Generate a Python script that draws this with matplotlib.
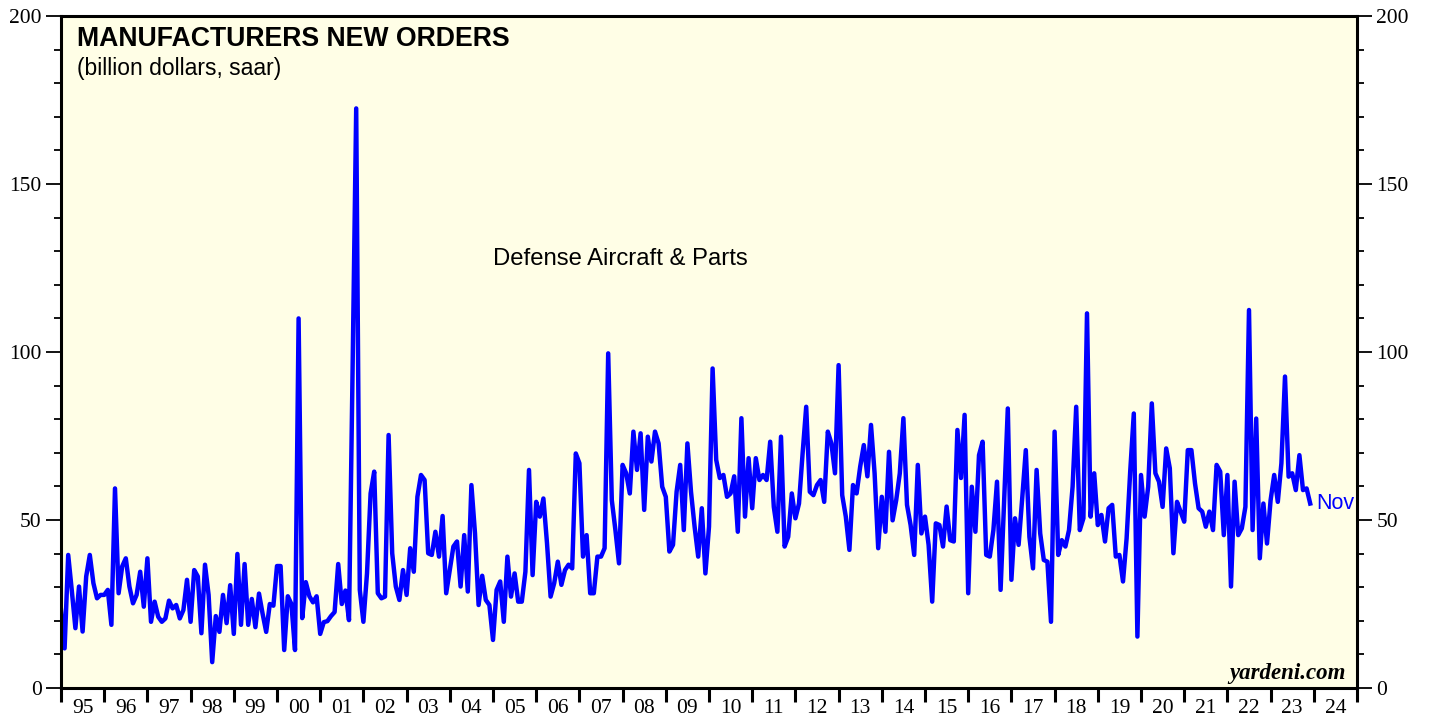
import numpy as np
import matplotlib.pyplot as plt

# Defense aircraft & parts, new orders, billion dollars saar
# monthly values, Dec 1994 .. Nov 2023
dec94 = [23.2]
y1995 = [11.8, 39.6, 29.0, 17.8, 30.2, 16.8, 33.2, 39.6, 31.2, 26.7, 27.7, 27.7]
y1996 = [29.2, 18.8, 59.4, 28.2, 36.2, 38.6, 30.2, 25.2, 27.7, 34.6, 24.2, 38.6]
y1997 = [19.7, 25.7, 21.2, 19.7, 20.7, 26.0, 23.7, 24.7, 20.7, 23.2, 32.2, 19.7]
y1998 = [35.1, 33.2, 16.3, 36.7, 27.7, 7.7, 21.4, 16.7, 27.7, 19.3, 30.6, 16.1]
y1999 = [39.9, 18.8, 36.9, 18.8, 26.5, 18.1, 28.1, 22.1, 16.7, 25.0, 24.5, 36.3]
y2000 = [36.3, 11.3, 27.3, 25.0, 11.3, 110.0, 20.8, 31.5, 27.3, 25.5, 27.3, 16.1]
y2001 = [19.6, 19.9, 21.4, 22.6, 36.9, 25.0, 29.0, 20.2, 95.0, 172.5, 29.2, 19.7]
y2002 = [34.1, 57.9, 64.4, 28.2, 26.7, 27.2, 75.3, 40.1, 30.2, 26.2, 35.1, 27.7]
y2003 = [41.6, 34.6, 56.9, 63.4, 61.9, 40.1, 39.6, 46.5, 39.1, 51.2, 28.2, 35.1]
y2004 = [42.1, 43.6, 30.2, 45.5, 28.7, 60.4, 46.0, 24.7, 33.4, 26.2, 24.7, 14.3]
y2005 = [29.2, 31.7, 19.7, 39.1, 27.2, 34.1, 25.7, 25.7, 34.6, 64.9, 33.6, 55.4]
y2006 = [51.0, 56.4, 43.1, 27.2, 31.2, 37.6, 30.7, 35.1, 36.7, 35.6, 69.8, 66.9]
y2007 = [39.1, 45.5, 28.2, 28.2, 39.1, 39.1, 41.6, 99.6, 55.9, 47.0, 37.1, 66.4]
y2008 = [63.9, 57.9, 76.3, 64.9, 75.8, 53.0, 74.8, 67.4, 76.3, 72.8, 59.9, 56.9]
y2009 = [40.6, 42.6, 58.4, 66.4, 47.0, 72.8, 58.4, 48.0, 39.1, 53.5, 34.1, 48.0]
y2010 = [95.1, 67.9, 62.5, 63.4, 56.9, 57.9, 63.0, 46.5, 80.3, 51.0, 68.4, 53.5]
y2011 = [68.4, 61.9, 63.4, 61.9, 73.3, 53.9, 46.5, 74.8, 42.1, 45.0, 57.9, 50.5]
y2012 = [54.9, 69.8, 83.7, 58.4, 57.4, 60.4, 61.9, 55.4, 76.3, 72.8, 63.9, 96.1]
y2013 = [57.4, 51.0, 41.1, 60.4, 57.9, 65.9, 72.3, 63.0, 78.3, 63.9, 41.6, 56.9]
y2014 = [46.5, 70.3, 49.9, 55.9, 63.9, 80.3, 54.5, 48.5, 39.6, 66.4, 46.0, 51.0]
y2015 = [42.6, 25.7, 49.0, 48.5, 42.1, 54.0, 44.0, 43.6, 76.8, 62.5, 81.3, 28.2]
y2016 = [59.9, 46.5, 69.3, 73.3, 39.6, 39.1, 47.0, 61.4, 29.2, 55.9, 83.2, 32.2]
y2017 = [50.5, 42.6, 56.4, 70.8, 45.0, 35.6, 64.9, 46.0, 38.1, 37.6, 19.7, 76.3]
y2018 = [39.6, 44.0, 42.1, 47.0, 59.9, 83.7, 47.0, 50.5, 111.5, 51.0, 63.9, 48.5]
y2019 = [51.5, 43.6, 53.5, 54.5, 39.1, 39.6, 31.7, 44.5, 64.4, 81.7, 15.3, 63.4]
y2020 = [51.0, 59.9, 84.7, 63.9, 61.4, 53.9, 71.3, 65.4, 40.1, 55.4, 52.5, 49.5]
y2021 = [70.8, 70.8, 60.9, 53.5, 52.5, 48.0, 52.5, 47.0, 66.4, 64.4, 45.5, 63.4]
y2022 = [30.2, 61.4, 45.5, 47.5, 53.9, 112.5, 47.0, 80.2, 38.6, 54.9, 43.0, 55.9]
y2023 = [63.4, 55.4, 66.9, 92.7, 62.9, 63.9, 58.9, 69.3, 58.9, 59.4, 54.9]

values = (dec94 + y1995 + y1996 + y1997 + y1998 + y1999 + y2000 + y2001 + y2002
          + y2003 + y2004 + y2005 + y2006 + y2007 + y2008 + y2009 + y2010 + y2011
          + y2012 + y2013 + y2014 + y2015 + y2016 + y2017 + y2018 + y2019 + y2020
          + y2021 + y2022 + y2023)

year_labels = ["95", "96", "97", "98", "99", "00", "01", "02", "03", "04",
               "05", "06", "07", "08", "09", "10", "11", "12", "13", "14",
               "15", "16", "17", "18", "19", "20", "21", "22", "23", "24"]

# month ends as decimal years (Dec 94 sits on 1995.0)
x = 1995 + np.arange(len(values)) / 12

serif = "Liberation Serif"
sans = "Liberation Sans"
tick_fs = 15.5

fig = plt.figure(figsize=(14.3, 7.17), dpi=100)
ax = fig.add_axes([61 / 1430, 29 / 717, 1296 / 1430, 672 / 717])
ax.set_facecolor("#fffee6")

ax.plot(x, values, color="#0000ff", lw=3.2, solid_joinstyle="round")

ax.set_xlim(1995, 2025)
ax.set_ylim(0, 200)

# y axis: labels both sides, minor ticks every 10
ax.set_yticks(np.arange(0, 201, 50))
ax.set_yticks(np.arange(0, 201, 10), minor=True)
ax.tick_params(axis="y", which="major", direction="out", length=11, width=1.3,
               left=True, right=True, labelleft=True, labelright=True,
               labelsize=tick_fs, pad=3)
ax.tick_params(axis="y", which="minor", direction="out", length=5, width=1.3,
               left=True, right=True)

# x axis: ticks on year bounds, labels in the middle
ax.set_xticks(np.arange(1995, 2026, 1))
ax.set_xticklabels([])
ax.set_xticks(np.arange(1995.5, 2025, 1), minor=True)
ax.set_xticklabels(year_labels, minor=True)
ax.tick_params(axis="x", which="major", direction="out", length=10, width=2.2)
ax.tick_params(axis="x", which="minor", length=0, labelsize=tick_fs, pad=8)

for lab in ax.get_xticklabels(minor=True):
    lab.set_fontfamily(serif)
for t in ax.yaxis.get_major_ticks():
    t.label1.set_fontfamily(serif)
    t.label2.set_fontfamily(serif)

for s in ax.spines.values():
    s.set_linewidth(2.2)

ax.text(0.0125, 0.966, "MANUFACTURERS NEW ORDERS", transform=ax.transAxes,
        fontsize=19.2, fontweight="bold", family=sans, va="center", ha="left")
ax.text(0.0125, 0.922, "(billion dollars, saar)", transform=ax.transAxes,
        fontsize=16.5, family=sans, va="center", ha="left")
ax.text(0.432, 0.639, "Defense Aircraft & Parts", transform=ax.transAxes,
        fontsize=17.2, family=sans, va="center", ha="center")
ax.text(x[-1] + 0.13, values[-1], "Nov", color="#0000ff", fontsize=15.5,
        family=sans, va="center", ha="left")
ax.text(0.9915, 0.022, "yardeni.com", transform=ax.transAxes, fontsize=16.5,
        family=serif, fontweight="bold", style="italic", va="center", ha="right")

fig.savefig("out.png", dpi=100)
